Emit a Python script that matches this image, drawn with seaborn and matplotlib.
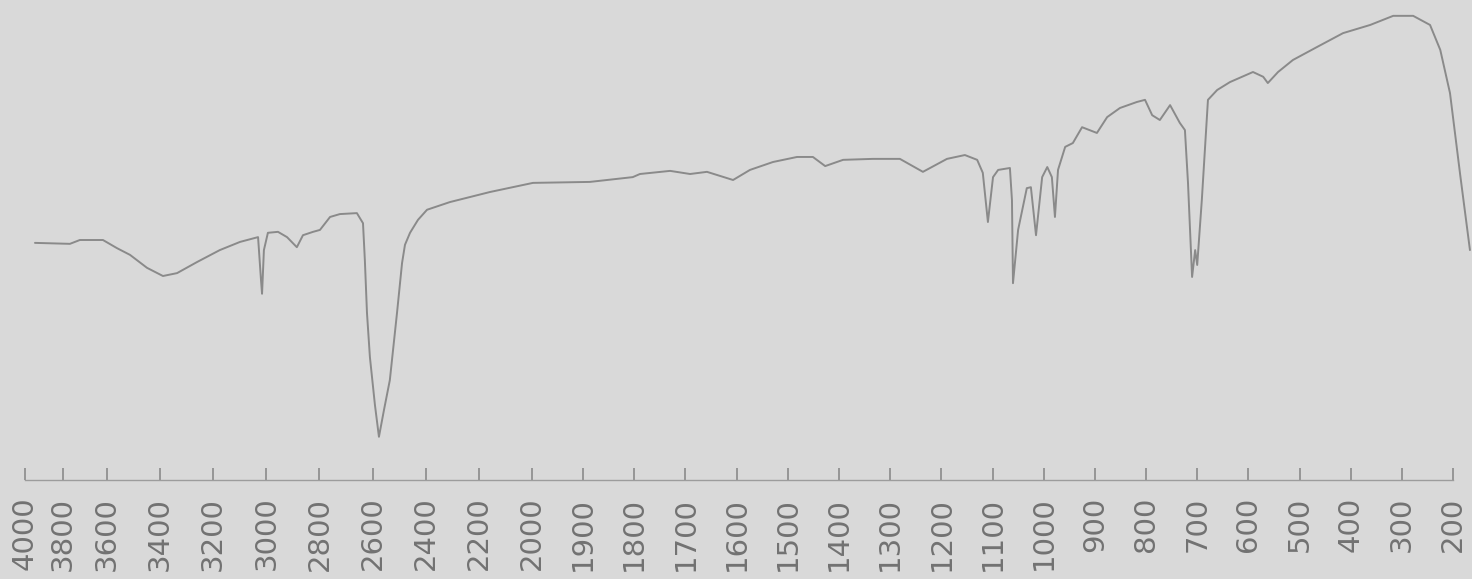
import numpy as np
import pandas as pd
import matplotlib
matplotlib.use("Agg")
import matplotlib.pyplot as plt
import seaborn as sns

# IR transmission spectrum: wavenumber (cm^-1) and transmittance (%)
wavenumber = [
    3947, 3768, 3723, 3618, 3562, 3513, 3449, 3389, 3336, 3261,
    3175, 3099, 3031, 3020, 3016, 3009, 2994, 2956, 2922, 2885,
    2862, 2824, 2798, 2760, 2723, 2659, 2636, 2629, 2621, 2610,
    2591, 2576, 2557, 2535, 2508, 2489, 2478, 2459, 2429, 2395,
    2309, 2158, 1998, 1887, 1803,
    1789, 1730, 1691, 1658, 1607, 1574, 1529, 1482, 1451, 1427,
    1392, 1334, 1281, 1236, 1189, 1154, 1130, 1119, 1109, 1099,
    1089, 1066, 1062, 1060, 1050, 1033, 1025, 1015, 1003, 993,
    984, 978, 972, 958, 943, 925, 896, 876, 851, 818,
    802, 788, 773, 753, 734, 724, 718, 710, 704, 700,
    691, 679, 661, 636, 591, 571, 562, 542, 513, 466,
    415, 362, 317, 278, 245, 225, 206, 186, 167,
]
transmittance = [
    49.4, 49.2, 50.0, 50.0, 48.3, 46.9, 44.2, 42.5, 43.1, 45.4,
    47.9, 49.6, 50.6, 41.7, 38.8, 47.9, 51.5, 51.7, 50.6, 48.5,
    51.0, 51.7, 52.1, 54.8, 55.4, 55.6, 53.5, 45.8, 34.8, 25.6,
    15.6, 9.0, 14.6, 20.8, 34.8, 45.2, 49.0, 51.5, 54.2, 56.3,
    57.9, 60.0, 61.9, 62.1, 63.1,
    63.75, 64.4, 63.75, 64.2, 62.5, 64.6, 66.25, 67.3, 67.3, 65.4,
    66.7, 66.9, 66.9, 64.2, 66.9, 67.7, 66.7, 64.0, 53.75, 63.1,
    64.6, 65.0, 58.3, 41.0, 52.1, 60.8, 61.0, 51.0, 63.1, 65.2,
    63.1, 54.8, 64.6, 69.4, 70.2, 73.5, 72.3, 75.6, 77.5, 78.75,
    79.2, 76.0, 75.0, 78.1, 74.4, 72.9, 61.9, 42.3, 47.9, 44.8,
    58.3, 79.2, 81.25, 82.9, 85.0, 84.0, 82.7, 85.0, 87.5, 90.2,
    93.1, 94.8, 96.7, 96.7, 94.8, 89.6, 80.6, 63.5, 47.9,
]

tick_values = [4000, 3800, 3600, 3400, 3200, 3000, 2800, 2600, 2400, 2200,
               2000, 1900, 1800, 1700, 1600, 1500, 1400, 1300, 1200, 1100,
               1000, 900, 800, 700, 600, 500, 400, 300, 200]
tick_labels = [str(v) for v in tick_values]

spectrum = pd.DataFrame({"wavenumber": wavenumber, "T": transmittance})

BG = "#d9d9d9"
INK = "#727272"
TRACE = "#8a8a8a"

sns.set_theme(style="white")
plt.rcParams["font.family"] = ["DejaVu Sans"]

# chart-paper abscissa: piecewise-linear in wavenumber
# (full scale below 2000 cm^-1, half scale above, tighter near 4000)
SCALE_WN = np.array([0.0, 200.0, 2000.0, 3600.0, 3800.0, 4000.0, 5000.0])
SCALE_POS = -np.array([1555.3, 1453.0, 532.0, 107.0, 63.0, 25.0, -165.0])


def fwd(w):
    return np.interp(np.asarray(w, dtype=float), SCALE_WN, SCALE_POS)


def inv(g):
    return np.interp(np.asarray(g, dtype=float), SCALE_POS, SCALE_WN)


fig = plt.figure(figsize=(14.72, 5.79), dpi=100, facecolor=BG)
ax = fig.add_axes([0, 99 / 579, 1, 480 / 579])
ax.set_facecolor(BG)
ax.set_xscale("function", functions=(fwd, inv))

sns.lineplot(data=spectrum, x="wavenumber", y="T", ax=ax, color=TRACE,
             linewidth=1.4, estimator=None, sort=False,
             solid_joinstyle="round")

ax.set_xlim(4131, 163)
ax.set_ylim(0, 100)
ax.set_xticks(tick_values)
ax.set_xticklabels(tick_labels, rotation=90)
ax.xaxis.set_minor_locator(matplotlib.ticker.NullLocator())
ax.set_yticks([])
ax.set_xlabel("")
ax.set_ylabel("")

for side in ("left", "right", "top"):
    ax.spines[side].set_visible(False)
ax.spines["bottom"].set_bounds(200, 4000)
ax.spines["bottom"].set_color("#9c9c9c")
ax.spines["bottom"].set_linewidth(1.0)

ax.tick_params(axis="x", direction="in", length=9, width=1.2, color="#8a8a8a",
               pad=12, labelsize=21, labelcolor=INK, bottom=True)

fig.savefig("out.png", dpi=100, facecolor=BG)
